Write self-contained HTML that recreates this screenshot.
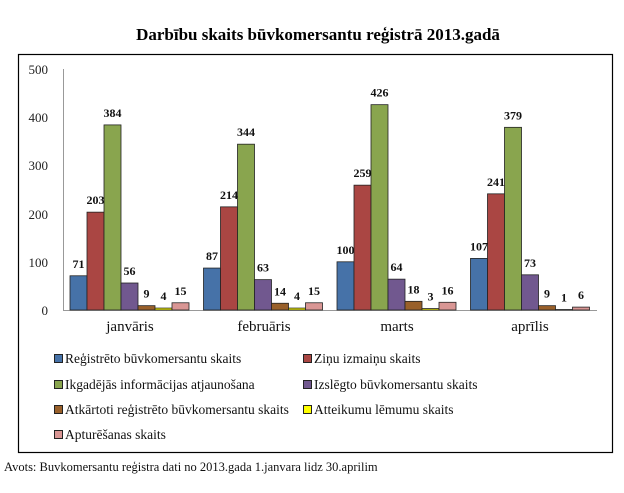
<!DOCTYPE html>
<html><head><meta charset="utf-8"><style>
body{margin:0;background:#fff;width:624px;height:488px;overflow:hidden;font-family:"Liberation Serif",serif}
</style></head><body>
<svg width="624" height="488" xmlns="http://www.w3.org/2000/svg" font-family="Liberation Serif, serif">
<text x="318" y="40" text-anchor="middle" font-size="17" font-weight="bold">Darbību skaits būvkomersantu reģistrā 2013.gadā</text>
<rect x="18.5" y="54.5" width="594" height="398" fill="none" stroke="#000" stroke-width="1.2"/>
<g font-size="13" fill="#222" text-anchor="end">
<text x="48" y="315">0</text><text x="48" y="267">100</text><text x="48" y="219">200</text><text x="48" y="170">300</text><text x="48" y="122">400</text><text x="48" y="74">500</text>
</g>
<line x1="63.5" y1="69" x2="63.5" y2="310" stroke="#999"/>
<line x1="63" y1="310.5" x2="597" y2="310.5" stroke="#999"/>
<g id="bars" stroke="#222" stroke-width="0.8"></g>
<g font-size="15" text-anchor="middle" fill="#111">
<text x="130" y="331">janvāris</text><text x="264" y="331">februāris</text><text x="397" y="331">marts</text><text x="530" y="331">aprīlis</text>
</g>
<g font-size="13.5" fill="#111">
<rect x="54.5" y="354.5" width="8" height="8" fill="#4672a8" stroke="#222"/><text x="65" y="363">Reģistrēto būvkomersantu skaits</text>
<rect x="303.5" y="354.5" width="8" height="8" fill="#aa4643" stroke="#222"/><text x="314" y="363">Ziņu izmaiņu skaits</text>
<rect x="54.5" y="380.5" width="8" height="8" fill="#89a54e" stroke="#222"/><text x="65" y="389">Ikgadējās informācijas atjaunošana</text>
<rect x="303.5" y="380.5" width="8" height="8" fill="#71588f" stroke="#222"/><text x="314" y="389">Izslēgto būvkomersantu skaits</text>
<rect x="54.5" y="405.5" width="8" height="8" fill="#99602a" stroke="#222"/><text x="65" y="414">Atkārtoti reģistrēto būvkomersantu skaits</text>
<rect x="303.5" y="405.5" width="8" height="8" fill="#ffff00" stroke="#222"/><text x="314" y="414">Atteikumu lēmumu skaits</text>
<rect x="54.5" y="430.5" width="8" height="8" fill="#d99694" stroke="#222"/><text x="65" y="439">Apturēšanas skaits</text>
</g>
<text x="4" y="471" font-size="12.5" fill="#111">Avots: Buvkomersantu reģistra dati no 2013.gada 1.janvara lidz 30.aprilim</text>
<g id="lbl" font-size="12" font-weight="bold" text-anchor="middle" fill="#111"></g>
</svg>
<script>
var d=[[71,203,384,56,9,4,15],[87,214,344,63,14,4,15],[100,259,426,64,18,3,16],[107,241,379,73,9,1,6]];
var c=["#4672a8","#aa4643","#89a54e","#71588f","#99602a","#ffff00","#d99694"];
var b=document.getElementById('bars'),l=document.getElementById('lbl'),ns="http://www.w3.org/2000/svg";
for(var g=0;g<4;g++)for(var i=0;i<7;i++){var v=d[g][i];var h=v*0.482;var x=70+g*133.5+i*17;
var r=document.createElementNS(ns,'rect');r.setAttribute('x',x);r.setAttribute('y',310-h);r.setAttribute('width',17);r.setAttribute('height',h);r.setAttribute('fill',c[i]);b.appendChild(r);
var t=document.createElementNS(ns,'text');t.setAttribute('x',x+8.5);t.setAttribute('y',310-h-8);t.textContent=v;l.appendChild(t);}
</script>
</body></html>
